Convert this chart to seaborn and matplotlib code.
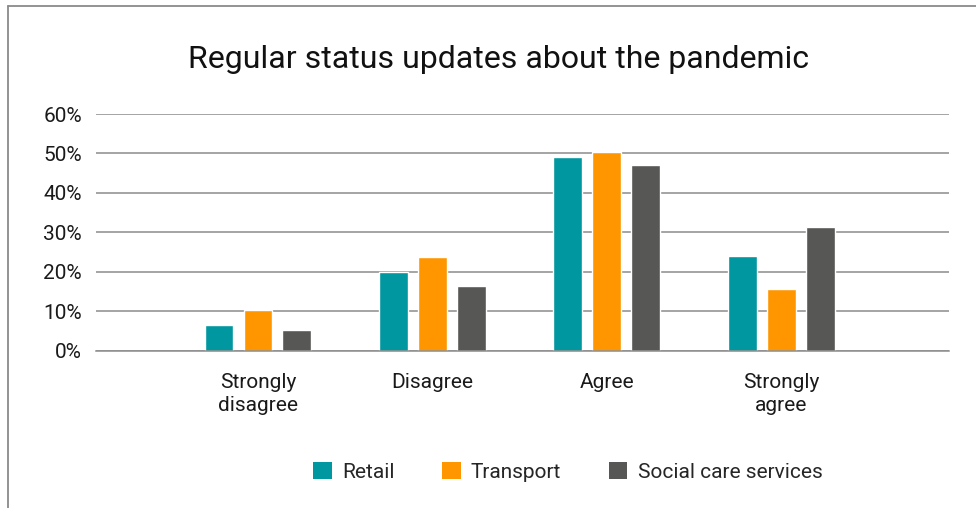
import pandas as pd
import matplotlib.pyplot as plt
import seaborn as sns
from matplotlib.lines import Line2D
from matplotlib.patches import Patch

# -------------------------------------------------------------
# DATA (in percent)
# -------------------------------------------------------------
categories = ['Strongly\ndisagree', 'Disagree', 'Agree', 'Strongly\nagree']
sectors = ['Retail', 'Transport', 'Social care services']

retail = [6.5, 19.9, 49.1, 24.1]
transport = [10.3, 23.8, 50.4, 15.7]
social_care = [5.2, 16.4, 47.1, 31.4]

colors = ['#0097A0', '#FF9600', '#575755']

# long format table for seaborn
df = pd.DataFrame({
    'response': categories * 3,
    'sector': [s for s in sectors for _ in categories],
    'share': retail + transport + social_care,
})

# -------------------------------------------------------------
# STYLE
# -------------------------------------------------------------
sns.set_theme(style="white")
plt.rcParams['font.family'] = ['Roboto', 'DejaVu Sans']

fig = plt.figure(figsize=(9.76, 5.08), dpi=100)
ax = fig.add_axes([95.7 / 976, 1 - 350.7 / 508, (948.7 - 95.7) / 976, (350.7 - 114) / 508])

sns.barplot(
    data=df,
    x='response',
    y='share',
    hue='sector',
    order=categories,
    hue_order=sectors,
    palette=colors,
    saturation=1,
    width=0.67,
    gap=0.26,
    legend=False,
    ax=ax,
)

ax.set_xlim(-0.93, 3.96)
ax.set_ylim(0, 60)
ax.set_yticks(range(0, 61, 10))
ax.set_yticklabels([f'{v}%' for v in range(0, 61, 10)])

# horizontal gridlines behind the bars
ax.set_axisbelow(True)
ax.yaxis.grid(True, color='#8c8c8c', linewidth=1.1)
ax.xaxis.grid(False)
for side in ['left', 'right', 'top']:
    ax.spines[side].set_visible(False)
ax.spines['bottom'].set_color('#8c8c8c')
ax.spines['bottom'].set_linewidth(1.1)

ax.tick_params(axis='y', length=0, pad=10, labelsize=15, labelcolor='#1a1a1a')
ax.tick_params(axis='x', length=0, pad=16, labelsize=15, labelcolor='#1a1a1a')
for lbl in ax.get_xticklabels():
    lbl.set_linespacing(1.3)
ax.set_xlabel('')
ax.set_ylabel('')

# title
fig.text(498 / 976, 1 - 68 / 508, 'Regular status updates about the pandemic',
         ha='center', va='baseline', fontsize=23, color='#111111')

# legend with square swatches
handles = [Patch(facecolor=c, edgecolor='none', label=s) for c, s in zip(colors, sectors)]
fig.legend(
    handles=handles,
    loc='center',
    bbox_to_anchor=(568 / 976, 1 - 472 / 508),
    ncol=3,
    frameon=False,
    fontsize=15,
    handlelength=0.87,
    handleheight=0.9,
    handletextpad=0.5,
    columnspacing=2.3,
)

# thin frame on the left and top of the image
fig.add_artist(Line2D([7.5 / 976, 7.5 / 976], [0, 1 - 6 / 508], transform=fig.transFigure,
                      color='#8a8a8a', linewidth=1.3))
fig.add_artist(Line2D([7.5 / 976, 1], [1 - 6 / 508, 1 - 6 / 508], transform=fig.transFigure,
                      color='#8a8a8a', linewidth=1.3))

plt.savefig('out.png', dpi=100)
print("Saved: out.png")
